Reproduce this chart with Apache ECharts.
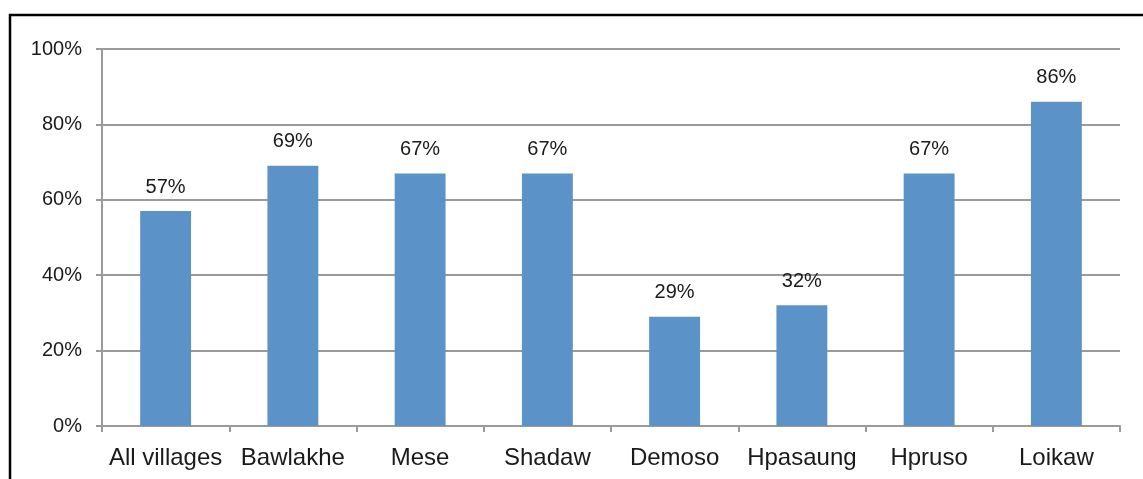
<!DOCTYPE html>
<html><head><meta charset="utf-8">
<script src="https://cdn.jsdelivr.net/npm/echarts@6/dist/echarts.min.js"></script>
<style>html,body{margin:0;padding:0;background:#fff}#c{width:1143px;height:479px}</style>
</head><body><div id="c"></div>
<script>
const categories = ['All villages','Bawlakhe','Mese','Shadaw','Demoso','Hpasaung','Hpruso','Loikaw'];
const values = [57, 69, 67, 67, 29, 32, 67, 86];
const yTicks = [0, 20, 40, 60, 80, 100];

const chart = echarts.init(document.getElementById('c'), null, {renderer:'canvas'});
const font = 'Liberation Sans, Arial, Helvetica, sans-serif';
chart.setOption({
  animation: false,
  backgroundColor: '#fff',
  grid: {left: 102, right: 23, top: 49, bottom: 53, containLabel: false},
  graphic: [{
    type: 'rect', silent: true,
    shape: {x: 10, y: 15, width: 1200, height: 600},
    style: {fill: 'none', stroke: '#000', lineWidth: 2.5}
  }],
  xAxis: {
    type: 'category', data: categories,
    axisLine: {show: true, lineStyle: {color: '#9a9a9a', width: 2}},
    axisTick: {show: true, alignWithLabel: false, length: 6, lineStyle: {color: '#9a9a9a', width: 2}},
    axisLabel: {color: '#1a1a1a', fontSize: 24, fontFamily: font, margin: 20, interval: 0}
  },
  yAxis: {
    type: 'value', min: 0, max: 100, interval: 20,
    axisLine: {show: true, lineStyle: {color: '#9a9a9a', width: 2}},
    axisTick: {show: true, inside: false, length: 6, lineStyle: {color: '#9a9a9a', width: 2}},
    splitLine: {show: true, lineStyle: {color: '#9a9a9a', width: 2}},
    axisLabel: {color: '#1a1a1a', fontSize: 20, fontFamily: font, margin: 20,
      formatter: v => yTicks.includes(v) ? v + '%' : ''}
  },
  series: [{
    type: 'bar', data: values, barWidth: '40%',
    itemStyle: {color: '#5b93c8'},
    label: {show: true, position: 'top', distance: 14, formatter: p => p.value + '%',
      color: '#1a1a1a', fontSize: 20, fontFamily: font}
  }]
});
</script></body></html>
